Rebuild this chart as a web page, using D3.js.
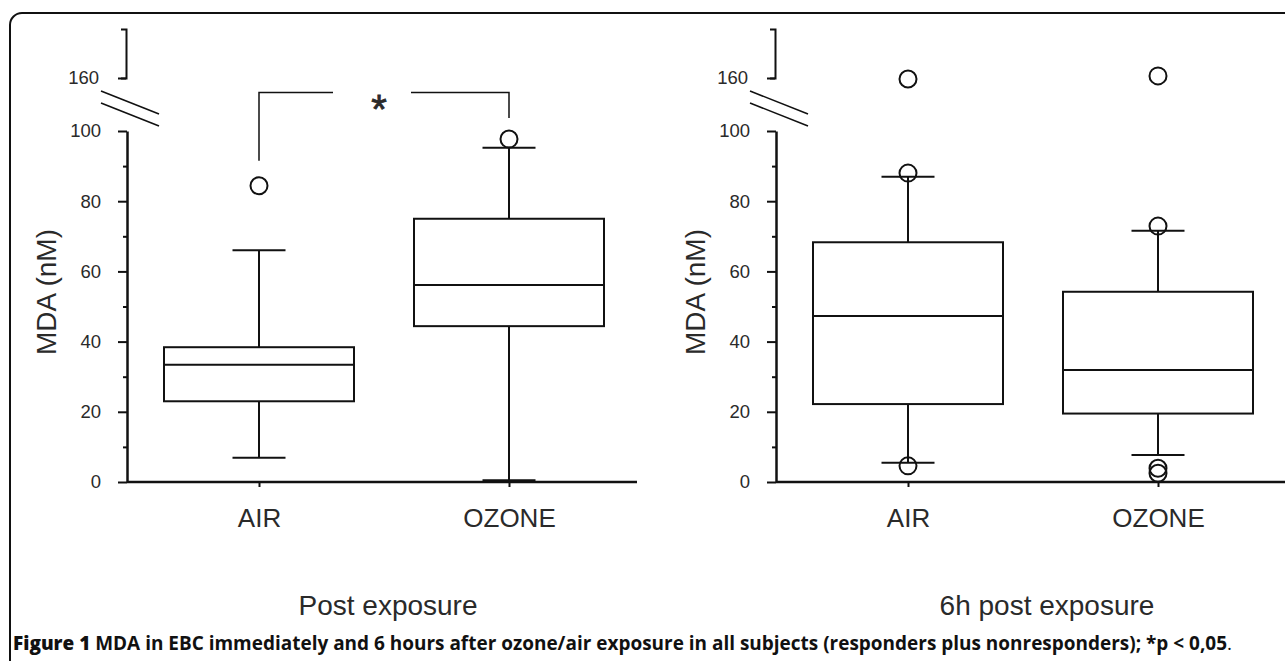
<!DOCTYPE html>
<html>
<head>
<meta charset="utf-8">
<script src="https://cdn.jsdelivr.net/npm/d3@7/dist/d3.min.js"></script>
<style>
body{margin:0;background:#fff}
svg{display:block}
</style>
</head>
<body>
<div id="chart"></div>
<script>

// categories and tick values
const categories=["AIR","OZONE"]
const panelTitles=["Post exposure","6h post exposure"]
const yTicks=[0,20,40,60,80,100]
const yMinorTicks=[10,30,50,70,90]
const yBreakTicks=[160]

// post exposure (nM)
const postLow=[6.9,0.5]
const postQ1=[23.0,44.4]
const postMedian=[33.4,56.1]
const postQ3=[38.4,75.0]
const postHigh=[66.0,95.2]
const postOutliers=[[84.4],[97.7]]

// 6h post exposure (nM)
const sixLow=[5.5,7.7]
const sixQ1=[22.2,19.5]
const sixMedian=[47.3,31.9]
const sixQ3=[68.3,54.2]
const sixHigh=[87.0,71.6]
const sixOutliers=[[88.0,4.6,159.7],[72.9,3.9,2.5,160.6]]

// significance bracket, post exposure panel
const sigTop=111
const sigEnds=[91.5,103.7]
const sigLabel="*"

const caption=["Figure 1"," MDA in EBC immediately and 6 hours after ozone/air exposure in all subjects (responders plus nonresponders); *p < 0,05","."]

// layout
const W=1285,H=661
const axisXs=[127,776]
const titleXs=[388,1047]
const boxW=190,capW=53,r=8.5
const ink="#111"
const txt="#2a2a2a"
const sans="'Liberation Sans',Arial,Helvetica,sans-serif"

const svg=d3.select("#chart").append("svg")
.attr("width",W)
.attr("height",H)

// figure frame
svg.append("path")
.attr("d","M10,700V25A12,12 0 0 1 22,13H1300")
.attr("fill","none")
.attr("stroke",ink)
.attr("stroke-width",2)

const yLow=d3.scaleLinear().domain([0,100]).range([482,131])
const yHigh=d3.scaleLinear().domain([160,174]).range([78,29])

function yOf(v){
return v>=150?yHigh(v):yLow(v)
}

function styleAxis(g,fs){
g.selectAll(".domain").attr("stroke",ink).attr("stroke-width",2.5)
g.selectAll(".tick line").attr("stroke",ink).attr("stroke-width",2)
g.selectAll(".tick text").attr("fill",txt).style("font-family",sans).style("font-size",fs+"px")
}

function drawPanel(i,stats){

const ax=axisXs[i]
const x=d3.scalePoint().domain(categories).range([ax+132,ax+382])
const g=svg.append("g")

// lower y axis
const yl=g.append("g")
.attr("transform","translate("+ax+",0)")
.call(d3.axisLeft(yLow).tickValues(yTicks).tickSize(9).tickSizeOuter(0).tickPadding(17))
styleAxis(yl,18.5)

const ym=g.append("g")
.attr("transform","translate("+ax+",0)")
.call(d3.axisLeft(yLow).tickValues(yMinorTicks).tickSize(4).tickFormat(""))
ym.select(".domain").remove()
styleAxis(ym,18.5)

// upper segment above the break
const yh=g.append("g")
.attr("transform","translate("+(ax-1)+",0)")
.call(d3.axisLeft(yHigh).tickValues(yBreakTicks).tickSize(8).tickSizeOuter(5).tickPadding(19))
styleAxis(yh,18.5)
yh.select(".domain").attr("stroke-width",2)

// break marks
const yb=yLow(100)
;[-40,-28].forEach(dy=>{
g.append("line")
.attr("x1",ax-26).attr("y1",yb+dy)
.attr("x2",ax+32).attr("y2",yb+dy+23)
.attr("stroke",ink)
.attr("stroke-width",1.6)
})

// baseline
g.append("line")
.attr("x1",ax).attr("x2",ax+510)
.attr("y1",yLow(0)).attr("y2",yLow(0))
.attr("stroke",ink)
.attr("stroke-width",2.5)

const xa=g.append("g")
.attr("transform","translate(0,"+yLow(0)+")")
.call(d3.axisBottom(x).tickSize(5).tickPadding(22))
xa.select(".domain").remove()
styleAxis(xa,26)

// y label
g.append("text")
.attr("transform","translate("+(ax-81)+",292) rotate(-90)")
.attr("text-anchor","middle")
.attr("dy","0.35em")
.attr("fill",txt)
.style("font-family",sans)
.style("font-size","28px")
.text("MDA (nM)")

// panel title
g.append("text")
.attr("x",titleXs[i])
.attr("y",615)
.attr("text-anchor","middle")
.attr("fill",txt)
.style("font-family",sans)
.style("font-size","28px")
.text(panelTitles[i])

const rows=categories.map((c,j)=>({
cat:c,
low:stats.low[j],q1:stats.q1[j],med:stats.med[j],q3:stats.q3[j],high:stats.high[j],
out:stats.out[j]
}))

const b=g.selectAll(".box").data(rows).enter().append("g").attr("class","box")

b.append("line")
.attr("x1",d=>x(d.cat)).attr("x2",d=>x(d.cat))
.attr("y1",d=>yLow(d.q3)).attr("y2",d=>yLow(d.high))
b.append("line")
.attr("x1",d=>x(d.cat)).attr("x2",d=>x(d.cat))
.attr("y1",d=>yLow(d.q1)).attr("y2",d=>yLow(d.low))
b.append("line")
.attr("x1",d=>x(d.cat)-capW/2).attr("x2",d=>x(d.cat)+capW/2)
.attr("y1",d=>yLow(d.high)).attr("y2",d=>yLow(d.high))
b.append("line")
.attr("x1",d=>x(d.cat)-capW/2).attr("x2",d=>x(d.cat)+capW/2)
.attr("y1",d=>yLow(d.low)).attr("y2",d=>yLow(d.low))

b.append("rect")
.attr("x",d=>x(d.cat)-boxW/2)
.attr("width",boxW)
.attr("y",d=>yLow(d.q3))
.attr("height",d=>yLow(d.q1)-yLow(d.q3))
.attr("fill","none")

b.append("line")
.attr("x1",d=>x(d.cat)-boxW/2).attr("x2",d=>x(d.cat)+boxW/2)
.attr("y1",d=>yLow(d.med)).attr("y2",d=>yLow(d.med))

b.selectAll("circle")
.data(d=>d.out.map(v=>({cat:d.cat,v:v})))
.enter()
.append("circle")
.attr("cx",d=>x(d.cat))
.attr("cy",d=>yOf(d.v))
.attr("r",r)
.attr("fill","none")

b.selectAll("line,rect,circle")
.attr("stroke",ink)
.attr("stroke-width",2)

return x

}

const x0=drawPanel(0,{low:postLow,q1:postQ1,med:postMedian,q3:postQ3,high:postHigh,out:postOutliers})
drawPanel(1,{low:sixLow,q1:sixQ1,med:sixMedian,q3:sixQ3,high:sixHigh,out:sixOutliers})

// significance bracket
const xa0=x0(categories[0]),xb0=x0(categories[1])
const xm=(xa0+xb0)/2
const sig=svg.append("g")
.attr("fill","none")
.attr("stroke",ink)
.attr("stroke-width",1.5)
sig.append("polyline")
.attr("points",[[xa0,yLow(sigEnds[0])],[xa0,yLow(sigTop)],[xm-51,yLow(sigTop)]].join(" "))
sig.append("polyline")
.attr("points",[[xm+27,yLow(sigTop)],[xb0,yLow(sigTop)],[xb0,yLow(sigEnds[1])]].join(" "))

svg.append("text")
.attr("x",xm-5)
.attr("y",yLow(sigTop)+31)
.attr("text-anchor","middle")
.attr("fill",txt)
.attr("stroke",txt)
.attr("stroke-width",0.8)
.style("font-family",sans)
.style("font-size","40px")
.text(sigLabel)

// caption
const cap=svg.append("text")
.attr("x",13)
.attr("y",650)
.attr("textLength",1219)
.attr("lengthAdjust","spacingAndGlyphs")
.attr("fill","#111")
.style("font-family","'Open Sans','Noto Sans',sans-serif")
.style("font-size","19px")

cap.append("tspan").style("font-weight",800).text(caption[0])
cap.append("tspan").style("font-weight",700).text(caption[1])
cap.append("tspan").style("font-weight",400).text(caption[2])

</script>
</body>
</html>
